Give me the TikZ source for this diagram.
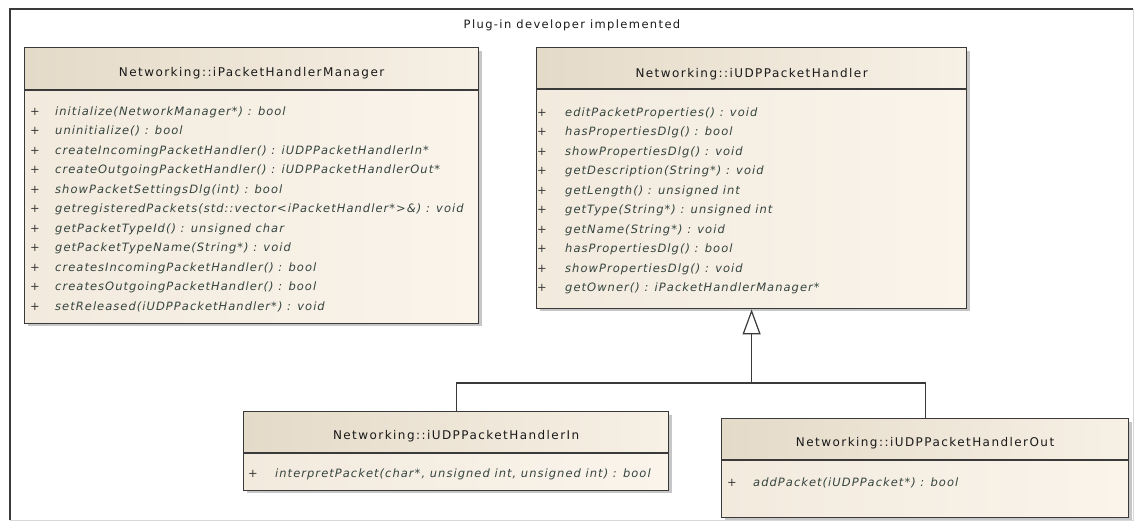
\documentclass[tikz,border=0pt]{standalone}
\usepackage{fontspec}
\setmainfont{DejaVu Sans}[LetterSpace=12]
\newfontfamily\opfont{DejaVu Sans}[LetterSpace=9]
\usetikzlibrary{arrows.meta}

\definecolor{hdrL}{HTML}{E4DAC8}
\definecolor{hdrR}{HTML}{F7F0E5}
\definecolor{bodyL}{HTML}{F2EADD}
\definecolor{bodyR}{HTML}{FAF4EB}
\definecolor{linec}{HTML}{3A3A3A}
\definecolor{methc}{HTML}{35443F}
\definecolor{shadowc}{HTML}{C6C6C6}
\definecolor{framelight}{HTML}{D8D8D8}

\tikzset{
  hdr/.style={rectangle, draw=linec, line width=1.2pt, left color=hdrL, right color=hdrR,
              inner sep=0pt, anchor=north west},
  bdy/.style={rectangle, draw=linec, line width=1.2pt, left color=bodyL, right color=bodyR,
              inner sep=0pt, anchor=north west},
  lbl/.style={font=\fontsize{11.5}{13}\selectfont, text=black!90, anchor=base, inner sep=0pt},
  ttl/.style={font=\fontsize{12}{14}\selectfont, text=black!90, anchor=base, inner sep=0pt},
  meth/.style={font=\opfont\fontsize{11.5}{13}\selectfont\itshape, text=methc, anchor=base west, inner sep=0pt},
  plus/.style={font=\opfont\fontsize{11.5}{13}\selectfont, text=linec, anchor=base, inner sep=0pt},
  conn/.style={draw=linec, line width=1.2pt},
  inh/.style={conn, -{Triangle[open, length=25pt, width=18pt]}},
}

% class box: name, left, top, width, header height, body height
\newcommand\classbox[6]{%
  \fill[shadowc] (#2+4,#3+4) rectangle ++(#4,#5+#6);
  \node[hdr, minimum width=#4, minimum height=#5] (#1-h) at (#2,#3) {};
  \node[bdy, minimum width=#4, minimum height=#6] (#1-b) at (#1-h.south west) {};
}

% operation rows: name, x of '+', x of text, baseline of first row, row pitch, list
\newcommand\oprows[6]{%
  \foreach \op [count=\i from 0] in {#6} {
    \node[plus] (#1-p\i) at (#2, #4+#5*\i) {+};
    \node[meth] (#1-r\i) at (#3, #4+#5*\i) {\op};
  }
}

\begin{document}
\begin{tikzpicture}[x=1pt, y=-1pt]
  \useasboundingbox (0,0) rectangle (1135,523);

  % package frame
  \node[minimum width=1123pt, minimum height=511pt, inner sep=0pt, anchor=north west] (frame) at (10,9) {};
  \draw[framelight, line width=1pt] (frame.north east) -- (frame.south east) -- (frame.south west);
  \draw[linec, line width=1.2pt] (frame.south west) -- (frame.north west) -- (frame.north east);
  \node[lbl] (label) at (572,28) {Plug-in developer implemented};

  % Networking::iPacketHandlerManager
  \classbox{mgr}{24}{47}{454}{42}{233}
  \node[ttl] (mgr-t) at (mgr-h.center |- 0,76) {Networking::iPacketHandlerManager};
  \oprows{mgr}{35}{55}{115}{19.55}{
    initialize(NetworkManager*) : bool,
    uninitialize() : bool,
    createIncomingPacketHandler() : iUDPPacketHandlerIn*,
    createOutgoingPacketHandler() : iUDPPacketHandlerOut*,
    showPacketSettingsDlg(int) : bool,
    getregisteredPackets(std::vector<iPacketHandler*>\&) : void,
    getPacketTypeId() : unsigned char,
    getPacketTypeName(String*) : void,
    createsIncomingPacketHandler() : bool,
    createsOutgoingPacketHandler() : bool,
    setReleased(iUDPPacketHandler*) : void}

  % Networking::iUDPPacketHandler
  \classbox{udp}{536}{47}{430}{41}{219}
  \node[ttl] (udp-t) at (udp-h.center |- 0,77) {Networking::iUDPPacketHandler};
  \oprows{udp}{542}{565}{116}{19.55}{
    editPacketProperties() : void,
    hasPropertiesDlg() : bool,
    showPropertiesDlg() : void,
    getDescription(String*) : void,
    getLength() : unsigned int,
    getType(String*) : unsigned int,
    getName(String*) : void,
    hasPropertiesDlg() : bool,
    showPropertiesDlg() : void,
    getOwner() : iPacketHandlerManager*}

  % Networking::iUDPPacketHandlerIn
  \classbox{hin}{243}{411}{425}{41}{37}
  \node[ttl] (hin-t) at (hin-h.center |- 0,439) {Networking::iUDPPacketHandlerIn};
  \oprows{hin}{253}{275}{477}{0}{{interpretPacket(char*, unsigned int, unsigned int) : bool}}

  % Networking::iUDPPacketHandlerOut
  \classbox{hout}{721}{418}{407}{41}{57}
  \node[ttl] (hout-t) at (hout-h.center |- 0,446) {Networking::iUDPPacketHandlerOut};
  \oprows{hout}{732}{753}{486}{0}{addPacket(iUDPPacket*) : bool}

  % generalisation
  \coordinate (join) at (udp-b.south |- 0,383);
  \draw[conn] (hin-h.north) |- (join) -| (hout-h.north);
  \draw[inh] (join) -- (udp-b.south);
\end{tikzpicture}
\end{document}
